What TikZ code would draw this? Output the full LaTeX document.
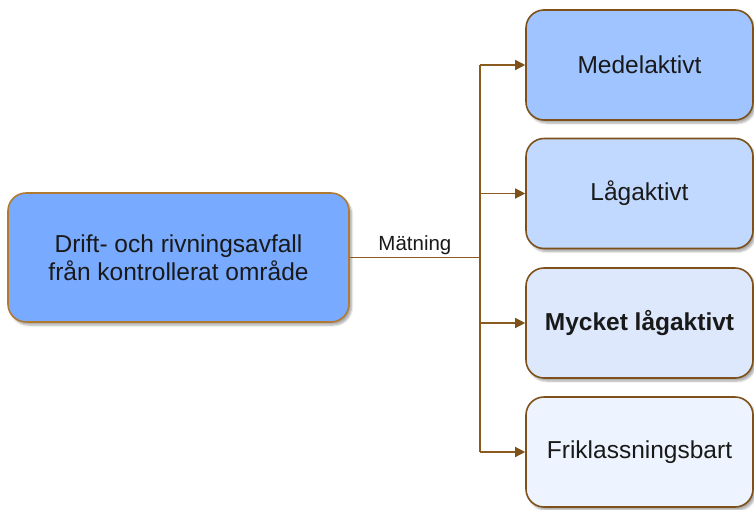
\documentclass[tikz,border=0pt]{standalone}
\usepackage{fontspec}
\setmainfont{Liberation Sans}
\usepackage{tikz}
\usetikzlibrary{arrows.meta,positioning,calc,shadows.blur}
\definecolor{srcfill}{HTML}{78AAFF}
\definecolor{medfill}{HTML}{A0C4FF}
\definecolor{lagfill}{HTML}{C1D8FF}
\definecolor{mlagfill}{HTML}{DDE8FD}
\definecolor{frifill}{HTML}{EEF4FF}
\definecolor{edge}{HTML}{7D5119}
\definecolor{edgelight}{HTML}{B07A32}
\definecolor{wire}{HTML}{8A5A1E}
\tikzset{
  >=Triangle,
  box/.style={rectangle, draw=edge, line width=1.6pt, rounded corners=18pt,
    align=center, font=\fontsize{24.5}{28}\selectfont, text=black!90,
    blur shadow={shadow xshift=2.5pt, shadow yshift=-3pt, shadow opacity=35, shadow blur steps=6}},
  srcbox/.style={box, draw=edgelight, fill=srcfill, minimum width=341pt, minimum height=129pt},
  cls/.style={box, minimum width=227pt, minimum height=110pt},
  conn/.style={draw=wire, line width=1.3pt},
  tip/.style={conn, -{Triangle[length=10pt, width=10pt, fill=edge, color=edge]}},
  lbl/.style={font=\fontsize{20.5}{24}\selectfont, text=black!90}
}
\begin{document}
\begin{tikzpicture}[x=1pt,y=-1pt]
    \useasboundingbox (0,0) rectangle (754,509);

    % Source box
    \node[srcbox] (src) at (178.5,257.5) {Drift- och rivningsavfall\\från kontrollerat område};

    % Activity classes
    \node[cls, fill=medfill]  (med)  at (639.5,65)    {Medelaktivt};
    \node[cls, fill=lagfill]  (lag)  at (639.5,193.5) {Lågaktivt};
    \node[cls, fill=mlagfill, font=\fontsize{24.5}{28}\selectfont\bfseries] (mlag) at (639.5,323) {Mycket lågaktivt};
    \node[cls, fill=frifill]  (fri)  at (639.5,452)   {Friklassningsbart};

    % Measurement branch
    \coordinate (hub) at (480,257.5);
    \draw[conn] (src.east) -- (hub) node[midway, above, lbl, inner sep=2pt] {Mätning};
    \draw[conn] (hub |- med.west) -- (hub |- fri.west);
    \foreach \n in {med,lag,mlag,fri} {
        \draw[tip] (hub |- \n.west) -- (\n.west);
    }

\end{tikzpicture}
\end{document}
